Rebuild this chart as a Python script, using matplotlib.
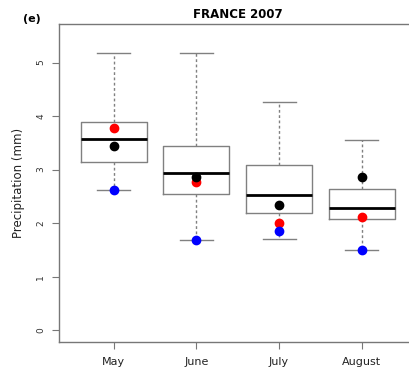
import matplotlib
matplotlib.use("Agg")
import matplotlib.pyplot as plt

months = ["May", "June", "July", "August"]
whisker_low = [2.62, 1.69, 1.71, 1.50]
q1 = [3.14, 2.55, 2.19, 2.08]
median = [3.57, 2.93, 2.52, 2.29]
q3 = [3.89, 3.45, 3.09, 2.63]
whisker_high = [5.18, 5.18, 4.26, 3.55]
black_pts = [3.45, 2.87, 2.34, 2.87]
red_pts = [3.77, 2.76, 2.00, 2.11]
blue_pts = [2.62, 1.69, 1.86, 1.50]
yticks = [0, 1, 2, 3, 4, 5]

fig = plt.figure(figsize=(4.09, 3.76), dpi=100)
ax = fig.add_axes([59/409, 34/376, (416.4-59)/409, (342-24)/376])

stats = []
for i, m in enumerate(months):
    stats.append(dict(label=m, whislo=whisker_low[i], q1=q1[i], med=median[i],
                      q3=q3[i], whishi=whisker_high[i], fliers=[]))
pos = list(range(1, len(months) + 1))
gray = "#808080"
ax.bxp(stats, positions=pos, widths=0.8, showfliers=False,
       boxprops=dict(color=gray, linewidth=1.0),
       medianprops=dict(color="black", linewidth=2.0),
       whiskerprops=dict(color=gray, linewidth=1.0, linestyle=(0, (2, 1.8))),
       capprops=dict(color=gray, linewidth=1.0), capwidths=0.4)

ax.plot(pos, red_pts, "o", color="red", markersize=6, linestyle="none", zorder=5)
ax.plot(pos, black_pts, "o", color="black", markersize=6, linestyle="none", zorder=6)
ax.plot(pos, blue_pts, "o", color="blue", markersize=6, linestyle="none", zorder=7)

ax.set_xlim(0.34, 4.66)
ax.set_ylim(-0.22, 5.72)
ax.set_yticks(yticks)
ax.set_yticklabels([str(t) for t in yticks], rotation=90, va="center", fontsize=6.5, color="#333333")
ax.set_xticks(pos)
ax.set_xticklabels(months, fontsize=8, color="#222222")
for s in ax.spines.values():
    s.set_color("#777777")
    s.set_linewidth(1.0)
ax.spines["right"].set_visible(False)
ax.tick_params(axis="both", direction="out", length=5, color="#777777", width=0.8)
ax.tick_params(axis="y", pad=5)
ax.tick_params(axis="x", pad=6)
ax.set_ylabel("Precipitation (mm)", fontsize=8.5, labelpad=8, color="#222222")
ax.set_title("FRANCE 2007", fontsize=8.5, fontweight="bold", pad=4)
fig.text(32/409, 1 - 19/376, "(e)", fontsize=8, fontweight="bold", ha="center", va="center")

fig.savefig("out.png", dpi=100)
